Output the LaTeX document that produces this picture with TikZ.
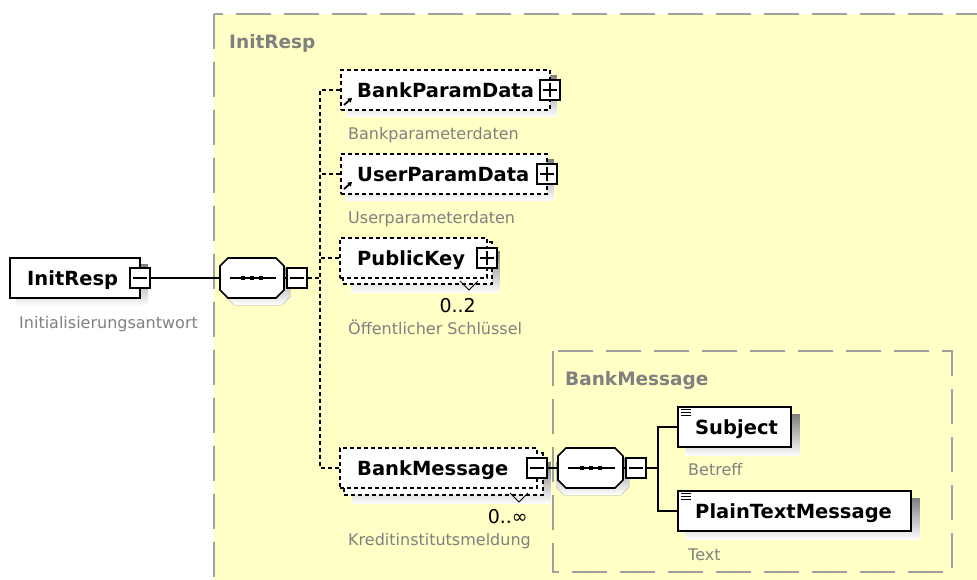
\documentclass[tikz,border=0pt]{standalone}
\usepackage{fontspec}
\setmainfont{DejaVu Sans}
\usetikzlibrary{calc,arrows.meta,backgrounds}
\definecolor{bgyellow}{RGB}{255,255,198}
\definecolor{framegray}{RGB}{160,160,160}
\definecolor{shade}{RGB}{192,192,192}
\definecolor{labelgray}{RGB}{128,128,128}
\tikzset{
  elbox/.style={draw=black, line width=1.8pt, fill=white, inner sep=0pt, minimum height=40pt},
  optbox/.style={elbox, dash pattern=on 4pt off 3pt},
  pmbox/.style={draw=black, fill=white, line width=1.3pt, minimum size=20pt, inner sep=0pt},
  hidden/.style={inner sep=0pt, minimum height=40pt},
  elname/.style={font=\bfseries\fontsize{19.5}{21}\selectfont, inner sep=0pt, anchor=base west},
  desc/.style={font=\fontsize{16}{18}\selectfont, text=labelgray, inner sep=0pt, anchor=base west},
  grouptitle/.style={font=\bfseries\fontsize{18.5}{20}\selectfont, text=labelgray, inner sep=0pt, anchor=base west},
  mult/.style={font=\fontsize{19}{21}\selectfont, inner sep=0pt, anchor=base east},
  conn/.style={draw=black, line width=1.6pt},
  optconn/.style={draw=black, line width=1.6pt, dash pattern=on 4pt off 3pt},
  bigframe/.style={draw=framegray, line width=2pt, dash pattern=on 35pt off 13pt},
  sign/.style={draw=black, line width=1.3pt},
  octo/.style={draw=black, fill=white, line width=1.6pt},
}
\begin{document}
\begin{tikzpicture}[x=1pt,y=-1pt]
\useasboundingbox (0,0) rectangle (977,579);
\clip (0,0) rectangle (977,579);

% ---------- element boxes ----------
\node[elbox, minimum width=130pt] (ir) at (75,278) {};
\node[pmbox] (irm) at (140,278) {};

\node[hidden, minimum width=64pt] (oct1) at (252,278) {};
\node[pmbox] (m1) at (297,278) {};

\node[optbox, minimum width=209pt] (bpd) at (445.5,90) {};
\node[pmbox] (bpdp) at (550,90) {};
\node[optbox, minimum width=206pt] (upd) at (444,174) {};
\node[pmbox] (updp) at (547,174) {};
\node[optbox, minimum width=147pt] (pk) at (413.5,258) {};
\node[pmbox] (pkp) at (487,258) {};
\node[optbox, minimum width=197pt] (bm) at (438.5,468) {};
\node[pmbox] (bmm) at (537,468) {};

\node[hidden, minimum width=65pt] (oct2) at (590.5,468) {};
\node[pmbox] (m2) at (636,468) {};

\node[elbox, minimum width=113pt] (subj) at (734.5,427) {};
\node[elbox, minimum width=233pt] (ptm) at (794.5,511) {};

% ---------- background: groups, shadows ----------
\begin{scope}[on background layer]
  \fill[bgyellow] (214,14) rectangle (990,590);
  \draw[bigframe, dash phase=26pt] (214,14) -- (990,14);
  \draw[bigframe] (214,14) -- (214,590);
  \draw[bigframe] (553,351) rectangle (952,572);
  % shadows
  \fill[shade] ($(ir.north west)+(7,7)$) rectangle ($(ir.south east)+(7,7)$);
  \fill[shade] ($(bpd.north west)+(6,6)$) rectangle ($(bpd.south east)+(6,6)$);
  \fill[shade] ($(upd.north west)+(6,6)$) rectangle ($(upd.south east)+(6,6)$);
  \fill[shade] ($(pk.north west)+(12,14)$) rectangle ($(pk.south east)+(12,14)$);
  \fill[shade] ($(bm.north west)+(13,15)$) rectangle ($(bm.south east)+(13,15)$);
  \fill[shade] ($(subj.north west)+(8,8)$) rectangle ($(subj.south east)+(8,8)$);
  \fill[shade] ($(ptm.north west)+(8,8)$) rectangle ($(ptm.south east)+(8,8)$);
  \fill[shade] (234,265)--(282,265)--(290,273)--(290,297)--(282,305)--(234,305)--(226,297)--(226,273)--cycle;
  \fill[shade] (564,455)--(621,455)--(629,463)--(629,487)--(621,495)--(564,495)--(556,487)--(556,463)--cycle;
  % stacked boxes for repeated elements
  \draw[optbox] ($(pk.north west)+(4,5)$) rectangle ($(pk.south east)+(4,5)$);
  \draw[optbox] ($(bm.north west)+(5,6)$) rectangle ($(bm.south east)+(5,6)$);
\end{scope}

% ---------- sequence compositors ----------
\draw[octo] (228,258)--(276,258)--(284,266)--(284,290)--(276,298)--(228,298)--(220,290)--(220,266)--cycle;
\draw[sign] ($(oct1.west)+(10,0)$) -- ($(oct1.east)+(-8,0)$);
\fill ($(oct1.center)+(-11,-2)$) rectangle +(4,4);
\fill ($(oct1.center)+(-2,-2)$) rectangle +(4,4);
\fill ($(oct1.center)+(7,-2)$) rectangle +(4,4);

\draw[octo] (566,448)--(615,448)--(623,456)--(623,480)--(615,488)--(566,488)--(558,480)--(558,456)--cycle;
\draw[sign] ($(oct2.west)+(10,0)$) -- ($(oct2.east)+(-8,0)$);
\fill ($(oct2.center)+(-11,-2)$) rectangle +(4,4);
\fill ($(oct2.center)+(-2,-2)$) rectangle +(4,4);
\fill ($(oct2.center)+(7,-2)$) rectangle +(4,4);

% ---------- plus / minus signs ----------
\foreach \n in {irm,m1,m2,bmm,bpdp,updp,pkp}{
  \draw[sign] ($(\n.west)+(4,0)$) -- ($(\n.east)+(-4,0)$);
}
\foreach \n in {bpdp,updp,pkp}{
  \draw[sign] ($(\n.north)+(0,4)$) -- ($(\n.south)+(0,-4)$);
}

% ---------- connectors ----------
\coordinate (jv) at (320,278);
\coordinate (jb) at (658,468);
\draw[conn] (irm.east) -- (oct1.west);
\draw[conn] (oct1.east) -- (m1.west);
\draw[optconn] (m1.east) -- (jv);
\draw[optconn] (bpd.west) -| (jv) |- (bm.west);
\draw[optconn] (upd.west) -- (upd.west -| jv);
\draw[optconn] (pk.west) -- (pk.west -| jv);
\draw[conn] (bmm.east) -- (oct2.west);
\draw[conn] (oct2.east) -- (m2.west);
\draw[conn] (m2.east) -- (jb);
\draw[conn] (subj.west) -| (jb) |- (ptm.west);

% ---------- icons ----------
\draw[line width=1.8pt, -{Triangle[length=4pt,width=5pt]}] (344,105) -- (352,98);
\draw[line width=1.8pt, -{Triangle[length=4pt,width=5pt]}] (344,189) -- (352,182);
\foreach \b in {subj,ptm}{
  \foreach \d in {3,6,9}{
    \draw[line width=1pt] ($(\b.north west)+(4,\d)$) -- +(10,0);
  }
}
% multiplicity notches
\draw[line width=1pt] (460,281) -- (469,290) -- (478,281);
\draw[line width=1pt] (510,493) -- (519,502) -- (528,493);

% ---------- texts ----------
\node[grouptitle] (t1) at (229,48) {InitResp};
\node[grouptitle] (t2) at (565,385) {BankMessage};

\node[elname] (irn) at (27,285) {InitResp};
\node[elname] (bpdn) at (357,97) {BankParamData};
\node[elname] (updn) at (357,181) {UserParamData};
\node[elname] (pkn) at (357,265) {PublicKey};
\node[elname] (bmn) at (357,475) {BankMessage};
\node[elname] (subjn) at (695,434) {Subject};
\node[elname] (ptmn) at (695,518) {PlainTextMessage};

\node[desc] (ird) at (19,328) {Initialisierungsantwort};
\node[desc] (bpdd) at (348,139) {Bankparameterdaten};
\node[desc] (updd) at (348,223) {Userparameterdaten};
\node[desc] (pkd) at (348,334) {Öffentlicher Schlüssel};
\node[desc] (bmd) at (348,545) {Kreditinstitutsmeldung};
\node[desc] (subjd) at (688,475) {Betreff};
\node[desc] (ptmd) at (688,560) {Text};

\node[mult] (pkmul) at (476,312) {0..2};
\node[mult] (bmmul) at (528,523) {0..∞};
\end{tikzpicture}
\end{document}
